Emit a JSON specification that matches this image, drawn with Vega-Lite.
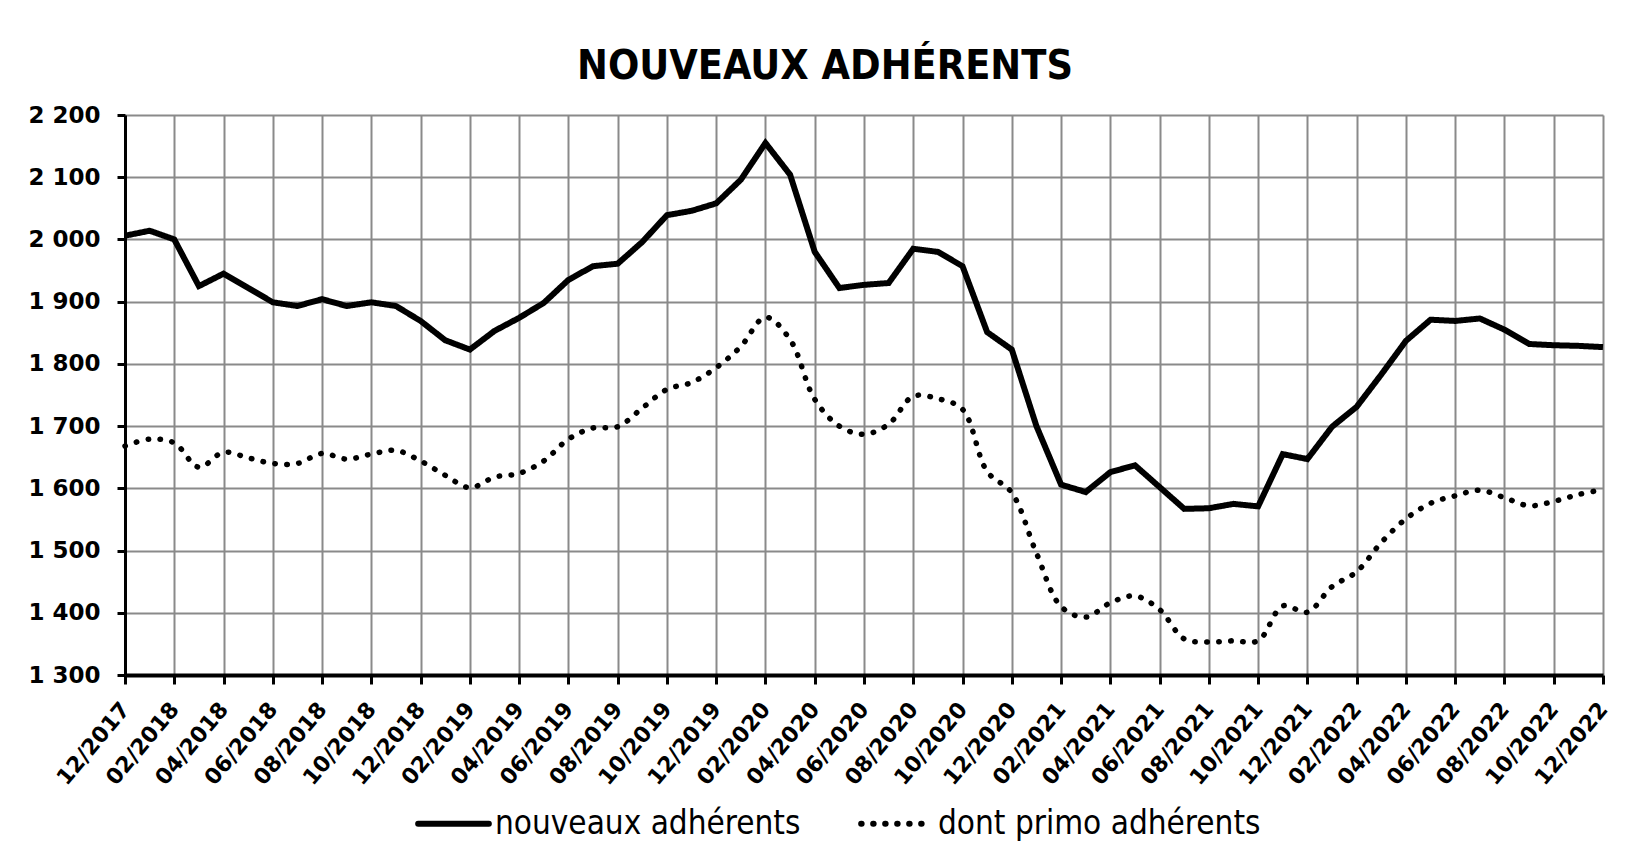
{
  "$schema": "https://vega.github.io/schema/vega-lite/v6.json",
  "autosize": {"type": "none"},
  "width": 1478,
  "height": 560,
  "padding": {"left": 125, "top": 115, "right": 43, "bottom": 170},
  "background": "white",
  "title": {
    "text": "NOUVEAUX ADHÉRENTS",
    "font": "DejaVu Sans Condensed, DejaVu Sans, sans-serif",
    "fontSize": 41,
    "fontWeight": "bold",
    "color": "black",
    "anchor": "middle",
    "baseline": "alphabetic",
    "offset": -16,
    "dx": -39
  },
  "data": {
    "values": [
      {"mois": "12/2017", "nouveaux": 2006, "primo": 1668},
      {"mois": "01/2018", "nouveaux": 2014, "primo": 1679},
      {"mois": "02/2018", "nouveaux": 2000, "primo": 1673},
      {"mois": "03/2018", "nouveaux": 1925, "primo": 1634},
      {"mois": "04/2018", "nouveaux": 1945, "primo": 1658},
      {"mois": "05/2018", "nouveaux": 1922, "primo": 1649},
      {"mois": "06/2018", "nouveaux": 1899, "primo": 1640},
      {"mois": "07/2018", "nouveaux": 1893, "primo": 1640},
      {"mois": "08/2018", "nouveaux": 1904, "primo": 1656},
      {"mois": "09/2018", "nouveaux": 1893, "primo": 1647},
      {"mois": "10/2018", "nouveaux": 1899, "primo": 1655},
      {"mois": "11/2018", "nouveaux": 1893, "primo": 1661},
      {"mois": "12/2018", "nouveaux": 1869, "primo": 1644},
      {"mois": "01/2019", "nouveaux": 1838, "primo": 1621},
      {"mois": "02/2019", "nouveaux": 1823, "primo": 1601},
      {"mois": "03/2019", "nouveaux": 1853, "primo": 1618},
      {"mois": "04/2019", "nouveaux": 1874, "primo": 1624},
      {"mois": "05/2019", "nouveaux": 1898, "primo": 1644},
      {"mois": "06/2019", "nouveaux": 1935, "primo": 1679},
      {"mois": "07/2019", "nouveaux": 1957, "primo": 1697},
      {"mois": "08/2019", "nouveaux": 1961, "primo": 1699},
      {"mois": "09/2019", "nouveaux": 1996, "primo": 1729},
      {"mois": "10/2019", "nouveaux": 2039, "primo": 1759},
      {"mois": "11/2019", "nouveaux": 2046, "primo": 1770},
      {"mois": "12/2019", "nouveaux": 2058, "primo": 1794},
      {"mois": "01/2020", "nouveaux": 2096, "primo": 1828},
      {"mois": "02/2020", "nouveaux": 2155, "primo": 1875},
      {"mois": "03/2020", "nouveaux": 2104, "primo": 1839},
      {"mois": "04/2020", "nouveaux": 1980, "primo": 1743},
      {"mois": "05/2020", "nouveaux": 1922, "primo": 1700},
      {"mois": "06/2020", "nouveaux": 1927, "primo": 1687},
      {"mois": "07/2020", "nouveaux": 1930, "primo": 1703},
      {"mois": "08/2020", "nouveaux": 1985, "primo": 1748},
      {"mois": "09/2020", "nouveaux": 1980, "primo": 1744},
      {"mois": "10/2020", "nouveaux": 1957, "primo": 1727},
      {"mois": "11/2020", "nouveaux": 1851, "primo": 1627},
      {"mois": "12/2020", "nouveaux": 1823, "primo": 1593},
      {"mois": "01/2021", "nouveaux": 1700, "primo": 1496},
      {"mois": "02/2021", "nouveaux": 1606, "primo": 1410},
      {"mois": "03/2021", "nouveaux": 1594, "primo": 1393},
      {"mois": "04/2021", "nouveaux": 1626, "primo": 1416},
      {"mois": "05/2021", "nouveaux": 1637, "primo": 1427},
      {"mois": "06/2021", "nouveaux": 1602, "primo": 1405},
      {"mois": "07/2021", "nouveaux": 1567, "primo": 1358},
      {"mois": "08/2021", "nouveaux": 1568, "primo": 1353},
      {"mois": "09/2021", "nouveaux": 1575, "primo": 1355},
      {"mois": "10/2021", "nouveaux": 1571, "primo": 1355},
      {"mois": "11/2021", "nouveaux": 1655, "primo": 1411},
      {"mois": "12/2021", "nouveaux": 1647, "primo": 1401},
      {"mois": "01/2022", "nouveaux": 1699, "primo": 1442},
      {"mois": "02/2022", "nouveaux": 1731, "primo": 1466},
      {"mois": "03/2022", "nouveaux": 1783, "primo": 1513},
      {"mois": "04/2022", "nouveaux": 1837, "primo": 1551},
      {"mois": "05/2022", "nouveaux": 1871, "primo": 1576},
      {"mois": "06/2022", "nouveaux": 1869, "primo": 1588},
      {"mois": "07/2022", "nouveaux": 1873, "primo": 1597},
      {"mois": "08/2022", "nouveaux": 1855, "primo": 1585},
      {"mois": "09/2022", "nouveaux": 1832, "primo": 1572},
      {"mois": "10/2022", "nouveaux": 1830, "primo": 1579},
      {"mois": "11/2022", "nouveaux": 1829, "primo": 1590},
      {"mois": "12/2022", "nouveaux": 1827, "primo": 1598}
    ]
  },
  "transform": [{"fold": ["nouveaux", "primo"], "as": ["serie", "valeur"]}],
  "encoding": {
    "x": {
      "field": "mois",
      "type": "ordinal",
      "sort": null,
      "scale": {"type": "point", "padding": 0},
      "axis": {
        "title": null,
        "values": ["12/2017","02/2018","04/2018","06/2018","08/2018","10/2018","12/2018","02/2019","04/2019","06/2019","08/2019","10/2019","12/2019","02/2020","04/2020","06/2020","08/2020","10/2020","12/2020","02/2021","04/2021","06/2021","08/2021","10/2021","12/2021","02/2022","04/2022","06/2022","08/2022","10/2022","12/2022"],
        "labelAngle": -50,
        "labelAlign": "right",
        "labelBaseline": "middle",
        "labelPadding": 21,
        "labelFont": "DejaVu Sans",
        "labelFontWeight": "bold",
        "labelFontSize": 22,
        "labelColor": "black",
        "grid": true,
        "gridColor": "#8a8a8a",
        "gridWidth": 2,
        "gridOpacity": 1,
        "domainColor": "black",
        "domainWidth": 4,
        "tickColor": "black",
        "tickWidth": 3,
        "tickSize": 9
      }
    },
    "y": {
      "field": "valeur",
      "type": "quantitative",
      "scale": {"domain": [1300, 2200], "nice": false, "zero": false},
      "axis": {
        "title": null,
        "values": [1300, 1400, 1500, 1600, 1700, 1800, 1900, 2000, 2100, 2200],
        "labelExpr": "replace(format(datum.value, ','), ',', ' ')",
        "labelFont": "DejaVu Sans",
        "labelFontWeight": "bold",
        "labelFontSize": 23,
        "labelColor": "black",
        "labelPadding": 17,
        "grid": true,
        "gridColor": "#8a8a8a",
        "gridWidth": 2,
        "gridOpacity": 1,
        "domainColor": "black",
        "domainWidth": 3,
        "tickColor": "black",
        "tickWidth": 3,
        "tickSize": 8
      }
    },
    "strokeDash": {
      "field": "serie",
      "type": "nominal",
      "scale": {"domain": ["nouveaux", "primo"], "range": [[1, 0], [0.5, 11.5]]},
      "legend": {
        "title": null,
        "orient": "none",
        "direction": "horizontal",
        "legendX": 290,
        "legendY": 670,
        "symbolType": "stroke",
        "symbolSize": 5000,
        "symbolStrokeWidth": 6,
        "symbolStrokeColor": "black",
        "labelFont": "DejaVu Sans Condensed, DejaVu Sans, sans-serif",
        "labelFontSize": 33,
        "labelColor": "black",
        "labelOffset": 3,
        "labelLimit": 500,
        "columnPadding": 48,
        "labelExpr": "datum.label == 'nouveaux' ? 'nouveaux adhérents' : 'dont primo adhérents'",
        "encode": {"symbols": {"update": {"strokeCap": {"value": "round"}}}}
      }
    }
  },
  "layer": [
    {
      "transform": [{"filter": "datum.serie == 'nouveaux'"}],
      "mark": {"type": "line", "color": "black", "strokeWidth": 6, "strokeJoin": "miter", "strokeCap": "butt"}
    },
    {
      "transform": [{"filter": "datum.serie == 'primo'"}],
      "mark": {"type": "line", "color": "black", "strokeWidth": 5.5, "strokeCap": "round", "interpolate": "catmull-rom"}
    }
  ],
  "config": {"view": {"stroke": null}}
}
